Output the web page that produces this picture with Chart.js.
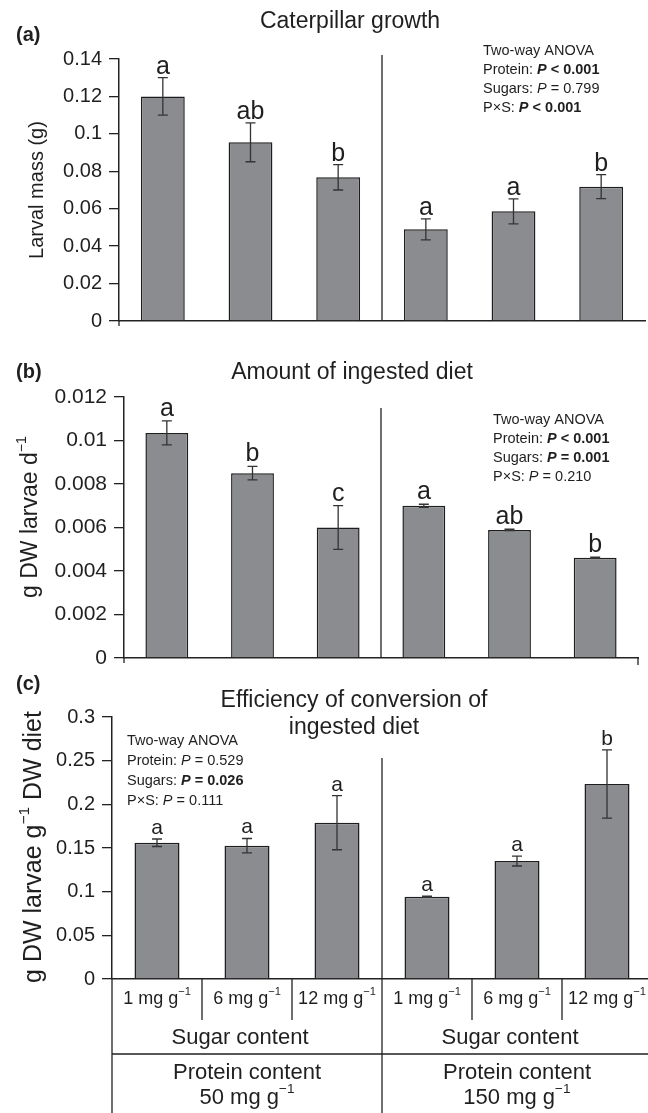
<!DOCTYPE html>
<html><head><meta charset="utf-8">
<script src="https://cdn.jsdelivr.net/npm/chart.js@4.4.1/dist/chart.umd.min.js"></script>
<style>
html,body{margin:0;padding:0;background:#fff;overflow:hidden;width:648px;height:1113px}
.p{position:absolute;left:0;width:648px;overflow:hidden}
canvas{display:block}
</style></head><body>
<div class="p" style="top:0;height:340px"><canvas id="ca" width="648" height="340"></canvas></div>
<div class="p" style="top:340px;height:340px"><canvas id="cb" width="648" height="340"></canvas></div>
<div class="p" style="top:670px;height:443px"><canvas id="cc" width="660" height="443"></canvas></div>
<script>
// ---------- data ----------
const categories = ['1 mg g^−1','6 mg g^−1','12 mg g^−1','1 mg g^−1','6 mg g^−1','12 mg g^−1'];
const groupLabels = ['Sugar content','Sugar content'];
const proteinLabels = [['Protein content','50 mg g^−1'],['Protein content','150 mg g^−1']];

const massMean = [0.120, 0.0955, 0.0768, 0.049, 0.0586, 0.0718];
const massSE   = [0.010, 0.0104, 0.0068, 0.0056, 0.0067, 0.0064];
const massLetters = ['a','ab','b','a','a','b'];
const massTicks = [0,0.02,0.04,0.06,0.08,0.1,0.12,0.14];

const dietMean = [0.01035, 0.0085, 0.0060, 0.0070, 0.00589, 0.00461];
const dietSE   = [0.00055, 0.00031, 0.00101, 0.00007, 0.00003, 0.00003];
const dietLetters = ['a','b','c','a','ab','b'];
const dietTicks = [0,0.002,0.004,0.006,0.008,0.01,0.012];

const effMean = [0.156, 0.1527, 0.179, 0.0943, 0.1351, 0.2233];
const effSE   = [0.0043, 0.0082, 0.031, 0.0007, 0.0057, 0.039];
const effLetters = ['a','a','a','a','a','b'];
const effTicks = [0,0.05,0.1,0.15,0.2,0.25,0.3];

const titleA = ['Caterpillar growth'];
const titleB = ['Amount of ingested diet'];
const titleC = ['Efficiency of conversion of','ingested diet'];
const yTitleA = 'Larval mass (g)';
const yTitleB = 'g DW larvae d^−1';
const yTitleC = 'g DW larvae g^−1^ DW diet';

const anovaA = [
  [['Two-way ANOVA','']],
  [['Protein: ',''],['P','bi'],[' < 0.001','b']],
  [['Sugars: ',''],['P','i'],[' = 0.799','']],
  [['P×S: ',''],['P','bi'],[' < 0.001','b']]
];
const anovaB = [
  [['Two-way ANOVA','']],
  [['Protein: ',''],['P','bi'],[' < 0.001','b']],
  [['Sugars: ',''],['P','bi'],[' = 0.001','b']],
  [['P×S: ',''],['P','i'],[' = 0.210','']]
];
const anovaC = [
  [['Two-way ANOVA','']],
  [['Protein: ',''],['P','i'],[' = 0.529','']],
  [['Sugars: ',''],['P','bi'],[' = 0.026','b']],
  [['P×S: ',''],['P','i'],[' = 0.111','']]
];

// ---------- style ----------
const FONT = '"Liberation Sans", Arial, Helvetica, sans-serif';
const BAR = '#8b8c90';
const EDGE = '#1e1e1e';
const AX = '#222';
const TXT = '#1f1f1f';
const ERR = '#333';

function drawSup(ctx, text, x, y, size, align) {
  const segs = text.split('^').map((t, i) => ({ t, sup: i % 2 === 1 }));
  let total = 0;
  segs.forEach(s => { ctx.font = `${s.sup ? size * 0.62 : size}px ${FONT}`; s.w = ctx.measureText(s.t).width; total += s.w; });
  let cx = align === 'center' ? x - total / 2 : (align === 'right' ? x - total : x);
  ctx.textAlign = 'left';
  segs.forEach(s => {
    ctx.font = `${s.sup ? size * 0.62 : size}px ${FONT}`;
    ctx.fillText(s.t, cx, s.sup ? y - size * 0.38 : y);
    cx += s.w;
  });
}
function drawRich(ctx, segs, x, y, size) {
  let cx = x;
  ctx.textAlign = 'left';
  segs.forEach(([t, st]) => {
    ctx.font = `${st.includes('i') ? 'italic ' : ''}${st.includes('b') ? 'bold ' : ''}${size}px ${FONT}`;
    ctx.fillText(t, cx, y);
    cx += ctx.measureText(t).width;
  });
}

const panels = [
  { id:'ca', top:0, W:648, H:340, left:119, right:645, aTop:59, aBottom:321,
    mean:massMean, se:massSE, letters:massLetters, ticks:massTicks, max:0.14,
    tickSize:20, letterSize:25, letterGap:4, originTick:true, endTick:false,
    tag:'(a)', tagY:35, title:titleA, titleY:[22], titleSize:23, titleX:350,
    yTitle:yTitleA, yTitleX:37, yTitleY:190, yTitleSize:20,
    anova:anovaA, anovaX:483, anovaY:[51,70,89,108], anovaSize:14.5, divTop:55 },
  { id:'cb', top:340, W:648, H:340, left:124, right:638, aTop:397, aBottom:658,
    mean:dietMean, se:dietSE, letters:dietLetters, ticks:dietTicks, max:0.012,
    tickSize:21, letterSize:25, letterGap:5, originTick:true, endTick:true,
    tag:'(b)', tagY:372, title:titleB, titleY:[373], titleSize:23, titleX:352,
    yTitle:yTitleB, yTitleX:31, yTitleY:517, yTitleSize:23,
    anova:anovaB, anovaX:493, anovaY:[420,439,458,477], anovaSize:14.5, divTop:408 },
  { id:'cc', top:670, W:660, H:443, left:112, right:652, aTop:717, aBottom:979,
    mean:effMean, se:effSE, letters:effLetters, ticks:effTicks, max:0.3,
    tickSize:20, letterSize:21, letterGap:5, originTick:false, endTick:false,
    tag:'(c)', tagY:684, title:titleC, titleY:[701,728], titleSize:23, titleX:354,
    yTitle:yTitleC, yTitleX:34, yTitleY:847, yTitleSize:25,
    anova:anovaC, anovaX:127, anovaY:[741,761,781,801], anovaSize:14.5, divTop:758, xLabels:true }
];

function overlay(p) {
  return {
    id: 'overlay_' + p.id,
    afterDatasetsDraw(chart) {
      const ctx = chart.ctx, xs = chart.scales.x, ys = chart.scales.y, area = chart.chartArea;
      ctx.save();
      // error bars + letters
      p.mean.forEach((m, i) => {
        const cx = xs.getPixelForValue(i);
        const yt = ys.getPixelForValue(m + p.se[i]);
        const yb = ys.getPixelForValue(m - p.se[i]);
        ctx.strokeStyle = ERR; ctx.lineWidth = 1.3;
        ctx.beginPath();
        ctx.moveTo(cx, yt); ctx.lineTo(cx, yb);
        ctx.moveTo(cx - 5, yt); ctx.lineTo(cx + 5, yt);
        ctx.moveTo(cx - 5, yb); ctx.lineTo(cx + 5, yb);
        ctx.stroke();
        ctx.fillStyle = TXT; ctx.font = `${p.letterSize}px ${FONT}`;
        ctx.textAlign = 'center'; ctx.textBaseline = 'alphabetic';
        ctx.fillText(p.letters[i], cx, yt - p.letterGap);
      });
      // group divider and small axis end ticks
      const dx = xs.getPixelForValue(2.5);
      ctx.strokeStyle = AX; ctx.lineWidth = 1.3;
      ctx.beginPath();
      ctx.moveTo(dx, p.divTop - p.top);
      ctx.lineTo(dx, p.xLabels ? p.H : area.bottom);
      if (p.originTick) { ctx.moveTo(area.left, area.bottom); ctx.lineTo(area.left, area.bottom + 5); }
      if (p.endTick) { ctx.moveTo(area.right, area.bottom); ctx.lineTo(area.right, area.bottom + 7); }
      ctx.stroke();
      ctx.restore();
    },
    afterDraw(chart) {
      const ctx = chart.ctx, xs = chart.scales.x, area = chart.chartArea;
      const off = p.top;
      ctx.save();
      ctx.fillStyle = TXT;
      ctx.textBaseline = 'middle';
      // panel tag
      ctx.font = `bold 20px ${FONT}`; ctx.textAlign = 'left';
      ctx.fillText(p.tag, 16, p.tagY - off);
      // title
      ctx.font = `${p.titleSize}px ${FONT}`; ctx.textAlign = 'center';
      p.title.forEach((t, i) => ctx.fillText(t, p.titleX, p.titleY[i] - off));
      // anova
      p.anova.forEach((line, i) => drawRich(ctx, line, p.anovaX, p.anovaY[i] - off, p.anovaSize));
      // y title
      ctx.save();
      ctx.translate(p.yTitleX, p.yTitleY - off);
      ctx.rotate(-Math.PI / 2);
      drawSup(ctx, p.yTitle, 0, 0, p.yTitleSize, 'center');
      ctx.restore();
      // x labels structure (panel c)
      if (p.xLabels) {
        const yb = area.bottom;
        ctx.strokeStyle = AX; ctx.lineWidth = 1.3;
        ctx.beginPath();
        ctx.moveTo(area.left, yb); ctx.lineTo(area.left, p.H);
        [0.5, 1.5, 3.5, 4.5].forEach(v => {
          const x = xs.getPixelForValue(v);
          ctx.moveTo(x, yb); ctx.lineTo(x, 1020 - off);
        });
        ctx.moveTo(area.left, 1054 - off); ctx.lineTo(p.W, 1054 - off);
        ctx.stroke();
        categories.forEach((c, i) => drawSup(ctx, c, xs.getPixelForValue(i), 999 - off, 18, 'center'));
        [0, 1].forEach(g => {
          const gc = (xs.getPixelForValue(g * 3) + xs.getPixelForValue(g * 3 + 2)) / 2;
          ctx.font = `22px ${FONT}`; ctx.textAlign = 'center';
          ctx.fillText(groupLabels[g], gc - 7, 1038 - off);
          ctx.fillText(proteinLabels[g][0], gc, 1073 - off);
          drawSup(ctx, proteinLabels[g][1], gc, 1098 - off, 22, 'center');
        });
      }
      ctx.restore();
    }
  };
}

panels.forEach(p => {
  new Chart(document.getElementById(p.id), {
    type: 'bar',
    data: {
      labels: categories,
      datasets: [{
        data: p.mean, backgroundColor: BAR, borderColor: EDGE, borderWidth: 1.5,
        barPercentage: 0.5, categoryPercentage: 1
      }]
    },
    options: {
      responsive: false, animation: false, devicePixelRatio: 1,
      layout: { padding: { left: 0, right: p.W - p.right, top: p.aTop - p.top, bottom: p.top + p.H - p.aBottom } },
      plugins: { legend: { display: false }, tooltip: { enabled: false }, title: { display: false } },
      scales: {
        x: {
          type: 'category', offset: true,
          grid: { display: false, drawTicks: false },
          border: { display: true, color: AX, width: 1.5 },
          ticks: { display: false },
          afterFit: s => { s.height = 0; }
        },
        y: {
          min: 0, max: p.max,
          afterBuildTicks: s => { s.ticks = p.ticks.map(v => ({ value: v })); },
          ticks: { callback: v => String(v), font: { family: FONT, size: p.tickSize }, color: TXT, padding: 7 },
          grid: { drawOnChartArea: false, tickLength: 10, color: AX, lineWidth: 1.3 },
          border: { color: AX, width: 1.5 },
          afterFit: s => { s.width = p.left; }
        }
      }
    },
    plugins: [overlay(p)]
  });
});
</script>
</body></html>
